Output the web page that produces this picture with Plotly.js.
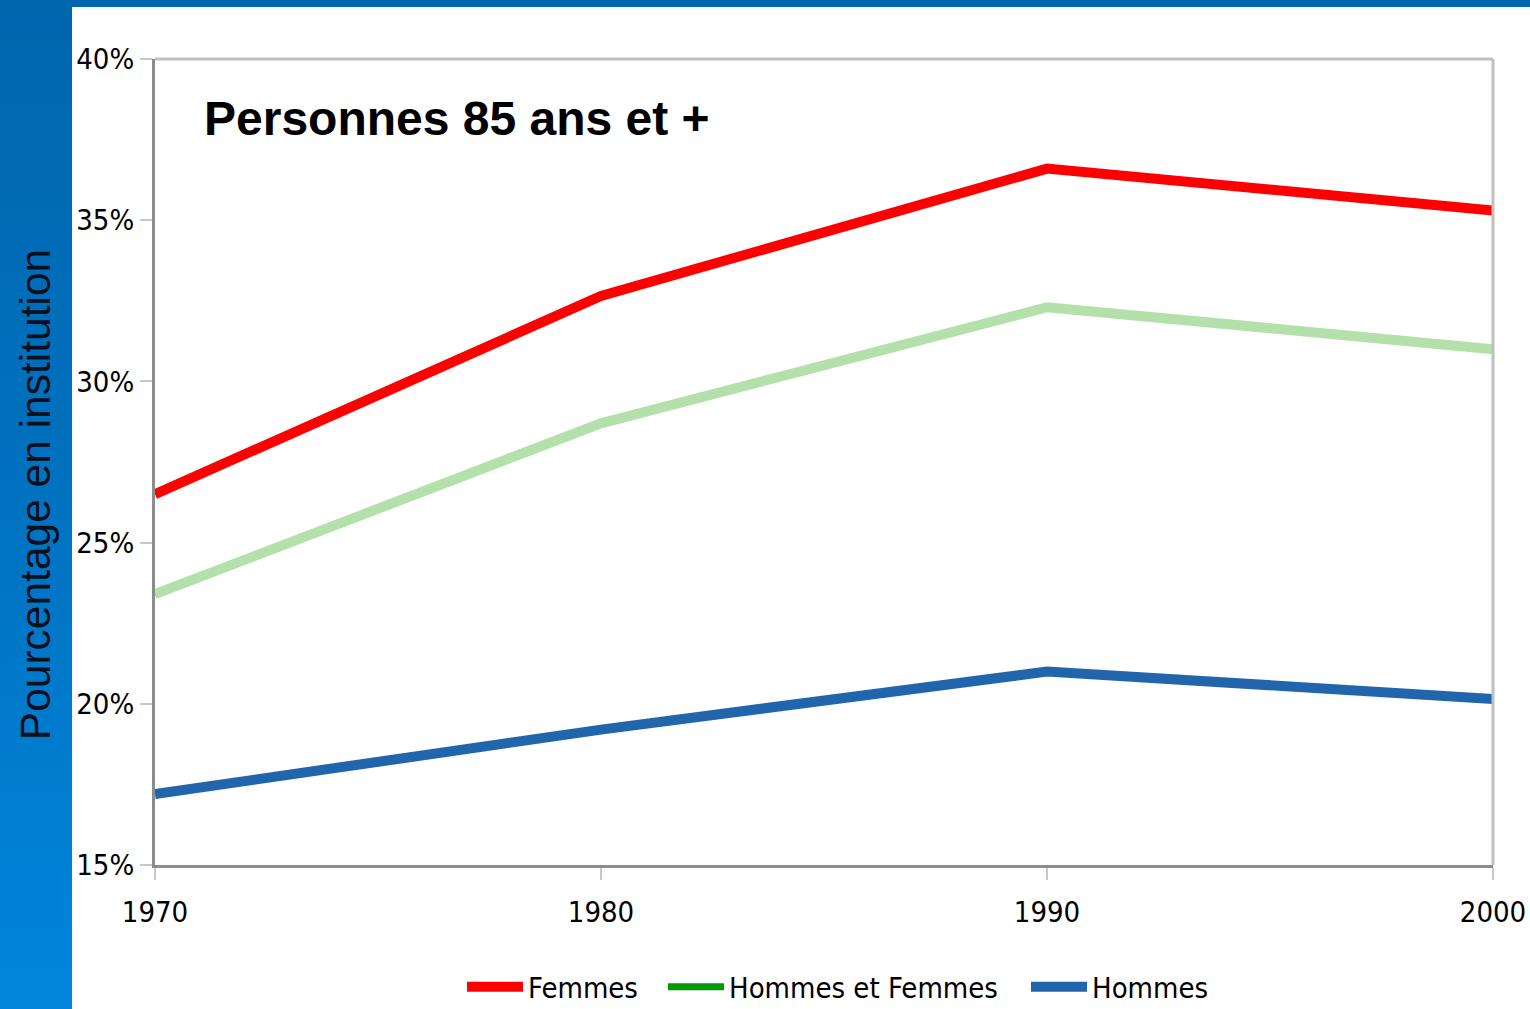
<!DOCTYPE html>
<html>
<head>
<meta charset="utf-8">
<script src="https://cdn.plot.ly/plotly-3.0.1.min.js"></script>
<style>
  html, body { margin: 0; padding: 0; background: #ffffff; }
  #wrap { position: relative; width: 1530px; height: 1009px; overflow: hidden; background: #ffffff; }
  #strip { position: absolute; left: 0; top: 0; width: 72px; height: 1009px;
           background: linear-gradient(to bottom, #0066ae 0%, #0072c0 50%, #0086dc 100%); }
  #topbar { position: absolute; left: 0; top: 0; width: 1530px; height: 7px; background: #0066ae; }
  #chart { position: absolute; left: 0; top: 0; width: 1530px; height: 1009px; }
</style>
</head>
<body>
<div id="wrap">
  <div id="strip"></div>
  <div id="topbar"></div>
  <div id="chart"></div>
</div>
<script>
// Data
const years = [1970, 1980, 1990, 2000];
const femmes = [26.5, 32.65, 36.6, 35.3];
const hommesEtFemmes = [23.4, 28.7, 32.3, 31.0];
const hommes = [17.2, 19.2, 21.0, 20.15];
const yTicks = [15, 20, 25, 30, 35, 40];
const xTicks = [1970, 1980, 1990, 2000];
const titleText = "Personnes 85 ans et +";
const yTitleText = "Pourcentage en institution";

const narrow = "Liberation Sans Narrow, DejaVu Sans Condensed, Arial Narrow, sans-serif";
const sans = "Liberation Sans, Arial, Helvetica, sans-serif";

const traces = [
  { x: years, y: femmes, name: "Femmes", type: "scatter", mode: "lines",
    line: { color: "#ff0000", width: 10 }, legend: "legend" },
  // legend entry (dark green as in the reference legend), drawn underneath the light line
  { x: years, y: hommesEtFemmes, name: "Hommes et Femmes", type: "scatter", mode: "lines",
    line: { color: "#009900", width: 7 }, legendgroup: "hf", legend: "legend2" },
  { x: years, y: hommesEtFemmes, name: "Hommes et Femmes", type: "scatter", mode: "lines",
    line: { color: "#b3e0ab", width: 10 }, legendgroup: "hf", showlegend: false, legend: "legend2" },
  { x: years, y: hommes, name: "Hommes", type: "scatter", mode: "lines",
    line: { color: "#2166ac", width: 10 }, legend: "legend3" }
];

function legendAt(px) {
  return {
    orientation: "h", xref: "container", yref: "container",
    x: px / 1530, xanchor: "left", y: 1 - 987 / 1009, yanchor: "middle",
    font: { family: narrow, size: 29, color: "#000000" },
    bgcolor: "rgba(0,0,0,0)", itemwidth: 56, traceorder: "normal"
  };
}

const layout = {
  width: 1530, height: 1009,
  paper_bgcolor: "rgba(0,0,0,0)",
  plot_bgcolor: "#ffffff",
  margin: { l: 155, r: 37, t: 59, b: 144, pad: 0 },
  showlegend: true,
  legend: legendAt(462),
  legend2: legendAt(663),
  legend3: legendAt(1026),
  xaxis: {
    range: [1970, 2000], tickmode: "array", tickvals: xTicks, ticktext: xTicks.map(String),
    showgrid: false, zeroline: false,
    showline: true, linecolor: "#8c8c8c", linewidth: 3,
    ticks: "outside", ticklen: 12, tickwidth: 2, tickcolor: "#c8c8c8",
    ticklabeloverflow: "allow", ticklabelstandoff: 7,
    tickfont: { family: narrow, size: 29, color: "#000000" }
  },
  yaxis: {
    range: [15, 40], tickmode: "array", tickvals: yTicks, ticktext: yTicks.map(v => v + "%"),
    showgrid: false, zeroline: false,
    showline: true, linecolor: "#8c8c8c", linewidth: 3,
    ticks: "outside", ticklen: 12, tickwidth: 2, tickcolor: "#c8c8c8",
    tickfont: { family: narrow, size: 29, color: "#000000" }
  },
  shapes: [
    { type: "line", xref: "paper", yref: "paper", x0: 0, x1: 1, y0: 1, y1: 1,
      line: { color: "#c0c0c0", width: 3 } },
    { type: "line", xref: "paper", yref: "paper", x0: 1, x1: 1, y0: 0, y1: 1,
      line: { color: "#c0c0c0", width: 3 } }
  ],
  annotations: [
    { text: titleText, xref: "paper", yref: "paper", x: 0.035, y: 0.9256,
      xanchor: "left", yanchor: "middle", showarrow: false,
      font: { family: sans, size: 48, color: "#000000", weight: "bold" } },
    { text: yTitleText, xref: "paper", yref: "paper", x: -0.0897, y: 0.46,
      xanchor: "center", yanchor: "middle", showarrow: false, textangle: -90,
      font: { family: sans, size: 42.5, color: "#0a0f1e" } }
  ]
};

Plotly.newPlot("chart", traces, layout, { displayModeBar: false, staticPlot: true });
</script>
</body>
</html>
